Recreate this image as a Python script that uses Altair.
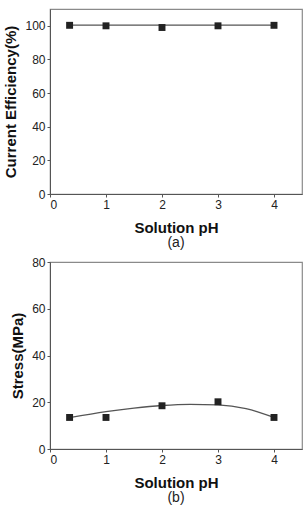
import altair as alt
import pandas as pd

# ---- data ----
ph = [0.35, 1, 2, 3, 4]
efficiency = [100.3, 100.0, 99.0, 100.0, 100.3]
eff_fit_ph = [0.35, 4.0]
eff_fit = [100.4, 100.4]

stress = [13.5, 13.5, 18.5, 20.2, 13.5]
stress_fit_ph = [0.35, 1.0, 1.5, 2.0, 2.5, 3.0, 3.5, 4.0]
stress_fit = [13.4, 16.0, 17.5, 18.6, 19.1, 18.9, 17.3, 13.5]

x_ticks = [0, 1, 2, 3, 4]
eff_ticks = [0, 20, 40, 60, 80, 100]
stress_ticks = [0, 20, 40, 60, 80]

FONT = "Liberation Sans"
W = 252

pts_a = pd.DataFrame({"ph": ph, "v": efficiency})
fit_a = pd.DataFrame({"ph": eff_fit_ph, "v": eff_fit})
pts_b = pd.DataFrame({"ph": ph, "v": stress})
fit_b = pd.DataFrame({"ph": stress_fit_ph, "v": stress_fit})


def panel(pts, fit, ydom, yticks, ytitle, label, h):
    xs = alt.Scale(domain=[0, 4.5], nice=False, zero=False)
    ys = alt.Scale(domain=ydom, nice=False)
    xax = alt.Axis(values=x_ticks, title="Solution pH", format="d", labelOverlap=False)
    yax = alt.Axis(values=yticks, title=ytitle, format="d", labelOverlap=False)
    line = alt.Chart(fit).mark_line(color="#555555", strokeWidth=1.3, interpolate="monotone").encode(
        x=alt.X("ph:Q", scale=xs, axis=xax),
        y=alt.Y("v:Q", scale=ys, axis=yax),
    )
    pts_m = alt.Chart(pts).mark_square(size=48, color="#222222", opacity=1).encode(
        x=alt.X("ph:Q", scale=xs, axis=xax),
        y=alt.Y("v:Q", scale=ys, axis=yax),
    )
    return alt.layer(line, pts_m).properties(
        width=W, height=h,
        title=alt.TitleParams(label, orient="bottom", fontSize=14, fontWeight="normal",
                              font=FONT, color="#222222", offset=1),
    )


top = panel(pts_a, fit_a, [0, 110], eff_ticks, "Current Efficiency(%)", "(a)", 185)
bottom = panel(pts_b, fit_b, [0, 80], stress_ticks, "Stress(MPa)", "(b)", 187)

chart = alt.vconcat(top, bottom, spacing=4).properties(
    padding={"left": 3, "top": 8, "right": 1, "bottom": 2},
    background="white",
).configure_view(
    stroke="#8a8a8a", strokeWidth=1.2
).configure_axis(
    grid=False, labelOverlap=False,
    labelFont=FONT, labelFontSize=12, labelColor="#222222",
    titleFont=FONT, titleFontSize=15, titleFontWeight="bold", titleColor="#111111",
    domainColor="#555555", tickColor="#555555", tickSize=3, labelPadding=2,
).configure_axisX(titlePadding=10).configure_axisY(titlePadding=6)

chart.save("out.html", embed_options={"renderer": "svg", "actions": False})
